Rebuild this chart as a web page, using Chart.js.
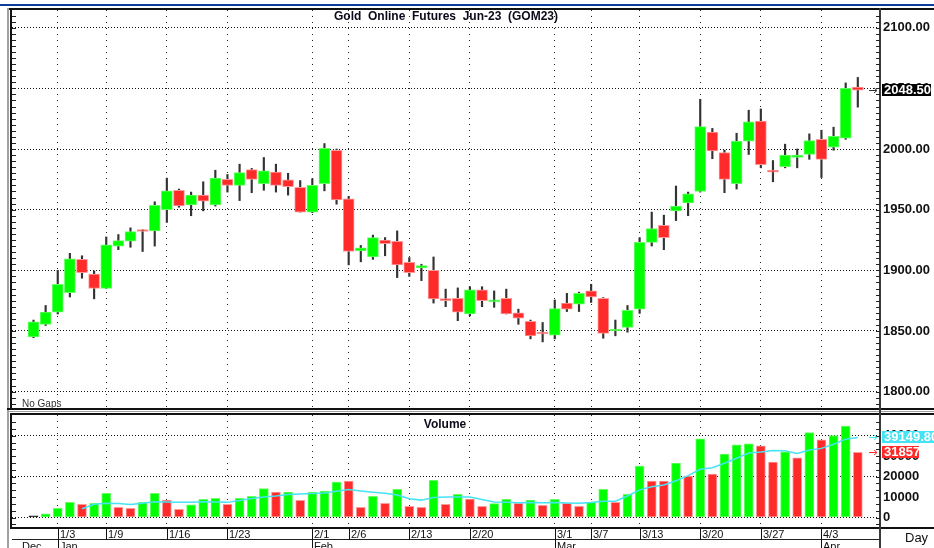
<!DOCTYPE html>
<html>
<head>
<meta charset="utf-8">
<script src="https://cdn.jsdelivr.net/npm/chart.js@4.4.0/dist/chart.umd.min.js"></script>
<style>
  html, body { margin: 0; padding: 0; background: #fff; }
  #wrap { position: relative; width: 934px; height: 548px; overflow: hidden; }
  canvas { position: absolute; left: 0; }
  #priceChart { top: 0; }
  #volChart { top: 410px; }
</style>
</head>
<body>
<div id="wrap">
  <canvas id="priceChart" width="934" height="410"></canvas>
  <canvas id="volChart" width="934" height="138"></canvas>
</div>
<script>
const dates = [
  "12/29", "12/30", "1/3", "1/4", "1/5", "1/6", "1/9", "1/10", "1/11", "1/12",
  "1/13", "1/16", "1/17", "1/18", "1/19", "1/20", "1/23", "1/24", "1/25", "1/26",
  "1/27", "1/30", "1/31", "2/1", "2/2", "2/3", "2/6", "2/7", "2/8", "2/9",
  "2/10", "2/13", "2/14", "2/15", "2/16", "2/17", "2/20", "2/21", "2/22", "2/23",
  "2/24", "2/27", "2/28", "3/1", "3/2", "3/3", "3/7", "3/8", "3/9", "3/10",
  "3/13", "3/14", "3/15", "3/16", "3/17", "3/20", "3/21", "3/22", "3/23", "3/24",
  "3/27", "3/28", "3/29", "3/30", "3/31", "4/3", "4/4", "4/5", "4/6",
];

const open = [
  1845, 1855.5, 1865.5, 1881.5, 1909, 1897, 1885, 1920, 1924, 1933,
  1932.5, 1950, 1966, 1954, 1962, 1954, 1975, 1970, 1983, 1971.5,
  1981, 1974.5, 1968.5, 1948, 1971.5, 1999, 1959, 1916, 1911, 1925,
  1924, 1906.5, 1902, 1900, 1876.5, 1877, 1864, 1884, 1874, 1877,
  1865, 1858, 1849, 1846.5, 1873, 1872, 1883, 1877, 1850, 1853,
  1868, 1923, 1937, 1949, 1955.5, 1965, 2014, 1997, 1971.5, 2006.5,
  2023, 1982.5, 1985.5, 1993, 1995.5, 2008, 2001.5, 2009, 2051,
];
const high = [
  1859, 1871, 1900, 1914, 1912, 1899.5, 1927.5, 1929.5, 1935, 1933.5,
  1956.5, 1976, 1967, 1964.5, 1973, 1982.5, 1979, 1987.5, 1984, 1993,
  1987.5, 1980, 1974, 1975.5, 2004.5, 2000, 1961, 1920.5, 1929, 1927,
  1932.5, 1910.5, 1905, 1911, 1884.5, 1885.5, 1886.5, 1886.5, 1883, 1884.5,
  1868, 1859, 1857, 1875.5, 1881, 1882, 1888.5, 1877.5, 1859, 1871,
  1927, 1948, 1945.5, 1969.5, 1964.5, 2041, 2017, 1999, 2013, 2032,
  2033, 1990.5, 2004, 2000, 2012.5, 2015.5, 2018, 2054.5, 2059,
];
const low = [
  1844.5, 1854.5, 1864, 1878, 1893.5, 1876.5, 1885, 1917, 1919, 1915.5,
  1920, 1939.5, 1952, 1945, 1949, 1953, 1964.5, 1957.5, 1964, 1966,
  1964.5, 1962, 1948, 1947.5, 1965.5, 1954.5, 1904.5, 1907, 1909, 1912,
  1894, 1895, 1891.5, 1873, 1870, 1858.5, 1862.5, 1870, 1869.5, 1864,
  1855.5, 1843.5, 1841, 1843.5, 1866, 1866, 1873.5, 1844, 1846, 1849,
  1864.5, 1920, 1917, 1941, 1945, 1964.5, 1992, 1964, 1967, 1995.5,
  1984.5, 1973, 1984.5, 1984.5, 1991.5, 1976.5, 1999, 2008, 2034.5,
];
const close = [
  1857.5, 1865.5, 1888.5, 1909.5, 1898, 1885, 1921, 1924.5, 1932, 1932,
  1953.5, 1965.5, 1953, 1962, 1957, 1976, 1970, 1980.5, 1975, 1982,
  1970, 1969, 1948, 1970, 2000.5, 1958, 1915.5, 1918.5, 1927, 1922,
  1904.5, 1898, 1904, 1876.5, 1875, 1865.5, 1884, 1875, 1875, 1864,
  1860.5, 1846, 1847.5, 1868.5, 1868, 1881, 1878, 1848, 1851.5, 1867,
  1923, 1934.5, 1927, 1953, 1963, 2018.5, 1998.5, 1975, 2006.5, 2022.5,
  1987, 1981, 1995, 1995, 2007, 1991.5, 2010.5, 2050, 2048.5,
];

const volume = [
  800, 1850, 4500, 7400, 6400, 6900, 11800, 5000, 4500, 7400,
  11800, 8500, 4000, 6250, 8900, 9350, 6400, 9350, 10300, 14200,
  12450, 12450, 8450, 12450, 12900, 17300, 17800, 5000, 10300, 6900,
  13750, 5450, 5000, 18150, 6400, 11300, 9000, 5450, 6750, 8900,
  6900, 8500, 5950, 8900, 6900, 5450, 7400, 13750, 7400, 11300,
  25100, 17800, 17800, 26600, 20250, 38450, 21200, 31000, 35500, 36000,
  35000, 27100, 32100, 29200, 41550, 37950, 40100, 44650, 31857,
];
// u = up, d = down, n = unchanged
const volDir = [
  "n", "u", "u", "u", "d", "u", "u", "d", "d", "u",
  "u", "d", "d", "u", "u", "u", "d", "u", "u", "u",
  "d", "u", "d", "u", "u", "u", "d", "d", "u", "d",
  "u", "d", "d", "u", "d", "u", "d", "d", "u", "u",
  "d", "u", "d", "u", "d", "d", "u", "u", "d", "u",
  "u", "d", "d", "u", "d", "u", "d", "u", "u", "u",
  "d", "d", "u", "d", "u", "d", "u", "u", "d",
];
const volAvg = [
  null, null, null, null, 4300, 6500, 7000, 6800, 6400, 7000,
  7700, 7600, 7400, 7500, 7700, 7600, 7400, 8300, 9300, 10000,
  10500, 11200, 11500, 11700, 12000, 12800, 13700, 13000, 12400, 11800,
  11000, 9200, 8500, 9800, 10000, 10000, 10000, 8800, 7600, 7400,
  7200, 7300, 7200, 7300, 7100, 7000, 7300, 8000, 8000, 10500,
  13500, 15000, 15900, 18000, 20500, 23600, 24300, 26500, 29000, 31500,
  32000, 32800, 32600, 31300, 33000, 33800, 35800, 38300, 39149.8,
];

const priceTicks = [1800, 1850, 1900, 1950, 2000, 2050, 2100];
const volTicks = [0, 10000, 20000, 30000, 40000];
const weekTicks = ["1/3", "1/9", "1/16", "1/23", "2/1", "2/6", "2/13", "2/20", "3/1", "3/7", "3/13", "3/20", "3/27", "4/3"];
const monthStarts = ["1/3", "2/1", "3/1", "4/3"];
const monthNames = ["Dec", "Jan", "Feb", "Mar", "Apr"];

const FONT = "'Liberation Sans', Arial, sans-serif";
const GREEN = "#00ff00", GREEN_EDGE = "#66ff66";
const RED = "#ff2b2b", RED_EDGE = "#ff9a9a";
const CYAN = "#45e3f3";

const weekIdx = weekTicks.map((d) => dates.indexOf(d));
const last = dates.length - 1;
// x range so that the candles sit where they do in the picture
const xMin = -1.774, xMax = 69.83;

function fixAxis(scale) {
  scale.width = 54;
  scale.paddingTop = 0;
  scale.paddingBottom = 0;
}

function minorTicks(ctx, scale, area, from, to, step) {
  ctx.strokeStyle = "#222";
  ctx.lineWidth = 1;
  ctx.beginPath();
  for (let v = from; v <= to + 0.001; v += step) {
    const p = Math.round(scale.getPixelForValue(v)) + 0.5;
    if (p < area.top + 2 || p > area.bottom - 1) continue;
    ctx.moveTo(area.left, p);
    ctx.lineTo(area.left + 4, p);
    ctx.moveTo(area.right - 4, p);
    ctx.lineTo(area.right, p);
  }
  ctx.stroke();
}

function arrow(ctx, y, color) {
  ctx.strokeStyle = color;
  ctx.lineWidth = 1;
  ctx.beginPath();
  ctx.moveTo(869, y + 0.5);
  ctx.lineTo(877, y + 0.5);
  ctx.moveTo(874, y - 2);
  ctx.lineTo(877, y + 0.5);
  ctx.lineTo(874, y + 3);
  ctx.stroke();
}

function valueBox(ctx, y, text, bg, w) {
  ctx.fillStyle = bg;
  ctx.fillRect(882, Math.round(y) - 6, w, 12);
  ctx.fillStyle = "#fff";
  ctx.font = "bold 13px " + FONT;
  ctx.textAlign = "left";
  ctx.textBaseline = "middle";
  ctx.fillText(text, 884, Math.round(y) + 0.5);
}

const pricePanel = {
  id: "pricePanel",
  beforeDraw(chart) {
    const ctx = chart.ctx;
    ctx.save();
    ctx.fillStyle = "#fff";
    ctx.fillRect(0, 0, chart.width, chart.height);
    ctx.restore();
  },
  afterDraw(chart) {
    const { ctx, chartArea: a } = chart;
    const y = chart.scales.y;
    ctx.save();
    // frame
    ctx.fillStyle = "#0b3b9b";
    ctx.fillRect(0, 4, 934, 2);
    ctx.fillStyle = "#111";
    ctx.fillRect(7, 8, 927, 2);
    ctx.fillStyle = "#a0a0a0";
    ctx.fillRect(7, 8, 2, 402);
    ctx.fillStyle = "#111";
    ctx.fillRect(10, 8, 2, 402);
    ctx.fillRect(7, 408, 927, 2);
    ctx.fillStyle = "#3a3a3a";
    ctx.fillRect(879, 8, 2, 402);

    minorTicks(ctx, y, a, 1790, 2110, 5);

    ctx.fillStyle = "#0a0a1a";
    ctx.font = "bold 12px " + FONT;
    ctx.textAlign = "center";
    ctx.textBaseline = "alphabetic";
    ctx.fillText("Gold  Online  Futures  Jun-23  (GOM23)", 446, 20);

    ctx.fillStyle = "#333";
    ctx.font = "10px " + FONT;
    ctx.textAlign = "left";
    ctx.fillText("No Gaps", 22, 407);

    const py = y.getPixelForValue(close[last]);
    arrow(ctx, Math.round(py), "#333");
    valueBox(ctx, py, close[last].toFixed(2), "#000", 49);
    ctx.restore();
  },
};

const volumePanel = {
  id: "volumePanel",
  beforeDraw(chart) {
    const ctx = chart.ctx;
    ctx.save();
    ctx.fillStyle = "#fff";
    ctx.fillRect(0, 0, chart.width, chart.height);
    ctx.restore();
  },
  afterDraw(chart) {
    const { ctx, chartArea: a } = chart;
    const x = chart.scales.x;
    const y = chart.scales.y;
    ctx.save();
    ctx.fillStyle = "#a0a0a0";
    ctx.fillRect(7, 0, 2, 138);
    ctx.fillRect(7, 1, 927, 1);
    ctx.fillStyle = "#111";
    ctx.fillRect(10, 3, 924, 2);
    ctx.fillRect(10, 3, 2, 116);
    ctx.fillRect(10, 117, 924, 2);
    ctx.fillStyle = "#3a3a3a";
    ctx.fillRect(879, 0, 2, 138);
    ctx.fillStyle = "#222";
    ctx.fillRect(12, 129, 867, 1);

    minorTicks(ctx, y, a, -10000 / 3, 50000, 10000 / 3);

    ctx.fillStyle = "#0a0a1a";
    ctx.font = "bold 12px " + FONT;
    ctx.textAlign = "center";
    ctx.textBaseline = "alphabetic";
    ctx.fillText("Volume", 445, 18);

    // date axis
    ctx.font = "11px " + FONT;
    ctx.textAlign = "left";
    ctx.fillStyle = "#111";
    weekTicks.forEach((d) => {
      const px = Math.round(x.getPixelForValue(dates.indexOf(d)));
      const isMonth = monthStarts.includes(d);
      ctx.fillRect(px, 119, 1, isMonth ? 19 : 11);
      ctx.fillText(d, px + 2, 128);
    });
    ctx.fillText(monthNames[0], 22, 140);
    monthStarts.forEach((d, k) => {
      const px = Math.round(x.getPixelForValue(dates.indexOf(d)));
      ctx.fillText(monthNames[k + 1], px + 2, 140);
    });
    ctx.font = "13px " + FONT;
    ctx.fillText("Day", 905, 132);

    const ay = y.getPixelForValue(volAvg[last]);
    const vy = y.getPixelForValue(volume[last]);
    arrow(ctx, Math.round(ay), CYAN);
    arrow(ctx, Math.round(vy), RED);
    valueBox(ctx, ay, volAvg[last].toFixed(2), CYAN, 52);
    valueBox(ctx, vy, String(volume[last]), RED, 37);
    ctx.restore();
  },
};

const up = close.map((c, i) => c >= open[i]);

const xScale = {
  type: "linear",
  min: xMin,
  max: xMax,
  offset: false,
  afterBuildTicks: (s) => {
    s.ticks = weekIdx.map((v) => ({ value: v }));
  },
  ticks: { display: false },
  grid: { color: "#222", drawTicks: false, offset: false },
  border: { display: false, dash: [1, 5] },
};

new Chart("priceChart", {
  type: "bar",
  data: {
    datasets: [
      {
        label: "High-Low",
        data: dates.map((d, i) => ({ x: i, y: [low[i], high[i]] })),
        backgroundColor: "#333",
        barThickness: 1.5,
        grouped: false,
        order: 2,
      },
      {
        label: "Open-Close",
        data: dates.map((d, i) => ({ x: i, y: [open[i], close[i]] })),
        backgroundColor: up.map((u) => (u ? GREEN : RED)),
        borderColor: up.map((u) => (u ? GREEN_EDGE : RED_EDGE)),
        borderWidth: 1,
        borderSkipped: false,
        barThickness: 11,
        minBarLength: 2,
        grouped: false,
        order: 1,
      },
    ],
  },
  options: {
    responsive: false,
    animation: false,
    layout: { padding: { left: 12, top: 10, right: 0, bottom: 2 } },
    plugins: { legend: { display: false }, tooltip: { enabled: false } },
    scales: {
      x: xScale,
      y: {
        position: "right",
        min: 1786.5,
        max: 2114.6,
        afterBuildTicks: (s) => {
          s.ticks = priceTicks.map((v) => ({ value: v }));
        },
        afterFit: fixAxis,
        ticks: {
          padding: 3,
          color: "#111",
          font: { family: FONT, size: 13, weight: "bold" },
          callback: (v) => Number(v).toFixed(2),
        },
        grid: { color: "#111", drawTicks: false },
        border: { display: false, dash: [1, 2] },
      },
    },
  },
  plugins: [pricePanel],
});

new Chart("volChart", {
  type: "bar",
  data: {
    datasets: [
      {
        type: "line",
        label: "Average",
        data: dates.map((d, i) => ({ x: i, y: volAvg[i] })),
        borderColor: CYAN,
        borderWidth: 1.5,
        pointRadius: 0,
        tension: 0,
        order: 0,
      },
      {
        label: "Volume",
        data: dates.map((d, i) => ({ x: i, y: volume[i] })),
        backgroundColor: volDir.map((c) => (c === "u" ? GREEN : c === "d" ? RED : "#111")),
        borderColor: volDir.map((c) => (c === "u" ? GREEN_EDGE : c === "d" ? RED_EDGE : "#111")),
        borderWidth: 1,
        borderSkipped: false,
        barThickness: 9,
        grouped: false,
        order: 1,
      },
    ],
  },
  options: {
    responsive: false,
    animation: false,
    layout: { padding: { left: 12, top: 5, right: 0, bottom: 21 } },
    plugins: { legend: { display: false }, tooltip: { enabled: false } },
    scales: {
      x: xScale,
      y: {
        position: "right",
        min: -4645,
        max: 50122,
        afterBuildTicks: (s) => {
          s.ticks = volTicks.map((v) => ({ value: v }));
        },
        afterFit: fixAxis,
        ticks: {
          padding: 3,
          color: "#111",
          font: { family: FONT, size: 13, weight: "bold" },
          callback: (v) => String(v),
        },
        grid: {
          drawTicks: false,
          color: (ctx) => (ctx.tick && ctx.tick.value % 20000 === 0 ? "#111" : "rgba(0,0,0,0)"),
        },
        border: { display: false, dash: [1, 2] },
      },
    },
  },
  plugins: [volumePanel],
});
</script>
</body>
</html>
